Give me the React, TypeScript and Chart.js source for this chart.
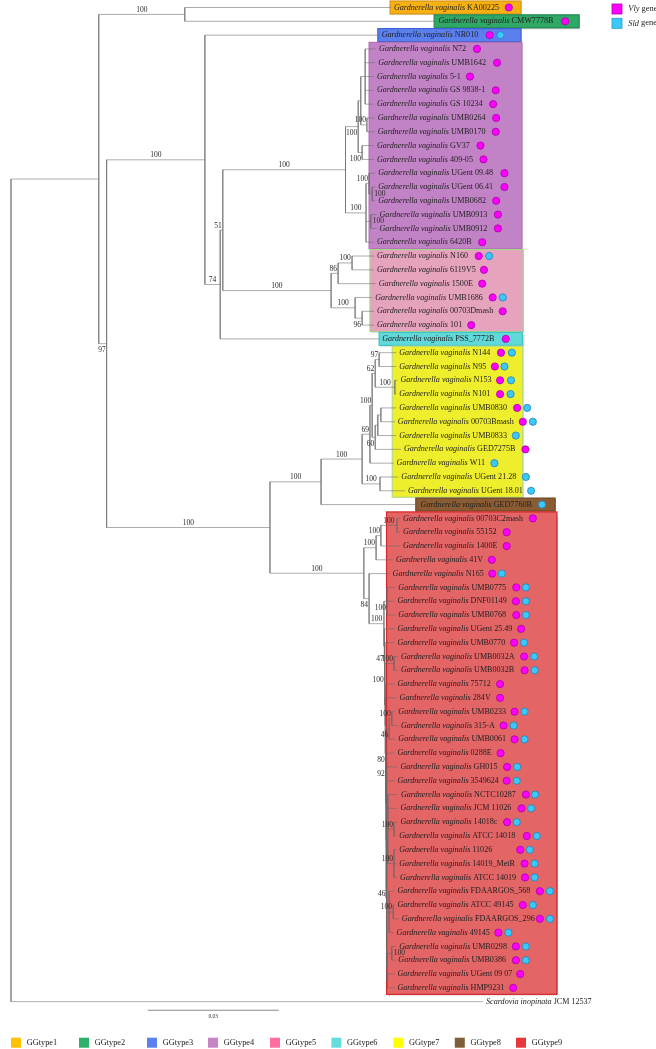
import React, { useEffect, useRef } from 'react';
import { Chart, registerables } from 'chart.js';

Chart.register(...registerables);

type Kid = string | number;

// ---------- DATA ----------
const LEAF_STRAINS: string[] = [
  'KA00225', 'CMW7778B', 'NR010', 'N72', 'UMB1642', '5-1', 'GS 9838-1', 'GS 10234', 'UMB0264', 'UMB0170',
  'GV37', '409-05', 'UGent 09.48', 'UGent 06.41', 'UMB0682', 'UMB0913', 'UMB0912', '6420B', 'N160', '6119V5',
  '1500E', 'UMB1686', '00703Dmash', '101', 'PSS_7772B', 'N144', 'N95', 'N153', 'N101', 'UMB0830',
  '00703Bmash', 'UMB0833', 'GED7275B', 'W11', 'UGent 21.28', 'UGent 18.01', 'GED7760B', '00703C2mash', '55152', '1400E',
  '41V', 'N165', 'UMB0775', 'DNF01149', 'UMB0768', 'UGent 25.49', 'UMB0770', 'UMB0032A', 'UMB0032B', '75712',
  '284V', 'UMB0233', '315-A', 'UMB0061', '0288E', 'GH015', '3549624', 'NCTC10287', 'JCM 11026', '14018c',
  'ATCC 14018', '11026', '14019_MetR', 'ATCC 14019', 'FDAARGOS_568', 'ATCC 49145', 'FDAARGOS_296', '49145', 'UMB0298', 'UMB0386',
  'UGent 09 07', 'HMP9231', 'JCM 12537',
];

const LEAF_SPECIES: string[] = LEAF_STRAINS.map((_, i) =>
  i === LEAF_STRAINS.length - 1 ? 'Scardovia inopinata' : 'Gardnerella vaginalis');

// tip depth (substitutions/site) of each leaf
const LEAF_TIPS: number[] = [
  0.0870, 0.0972, 0.0842, 0.0836, 0.0834, 0.0831, 0.0831, 0.0831, 0.0833, 0.0833,
  0.0831, 0.0831, 0.0834, 0.0834, 0.0834, 0.0837, 0.0837, 0.0831, 0.0831, 0.0831,
  0.0835, 0.0827, 0.0831, 0.0831, 0.0843, 0.0882, 0.0882, 0.0885, 0.0882, 0.0882,
  0.0879, 0.0882, 0.0893, 0.0876, 0.0887, 0.0902, 0.0931, 0.0891, 0.0891, 0.0891,
  0.0875, 0.0867, 0.0880, 0.0878, 0.0880, 0.0878, 0.0878, 0.0886, 0.0886, 0.0878,
  0.0883, 0.0880, 0.0886, 0.0880, 0.0878, 0.0885, 0.0878, 0.0886, 0.0885, 0.0885,
  0.0882, 0.0882, 0.0882, 0.0884, 0.0878, 0.0878, 0.0888, 0.0876, 0.0882, 0.0880,
  0.0878, 0.0878, 0.1081,
];

// marker positions of the Vly gene (magenta) and Sld gene (cyan) dots
const VLY_X: (number | null)[] = [
  0.1140, 0.1269, 0.1096, 0.1067, 0.1113, 0.1051, 0.1110, 0.1104, 0.1111, 0.1110,
  0.1075, 0.1082, 0.1130, 0.1130, 0.1111, 0.1115, 0.1115, 0.1079, 0.1071, 0.1083,
  0.1079, 0.1103, 0.1126, 0.1054, 0.1133, 0.1122, 0.1108, 0.1120, 0.1120, 0.1159,
  0.1172, null, 0.1178, null, null, null, null, 0.1195, 0.1135, 0.1135,
  0.1101, 0.1102, 0.1157, 0.1156, 0.1157, 0.1168, 0.1152, 0.1175, 0.1176, 0.1120,
  0.1120, 0.1153, 0.1128, 0.1153, 0.1121, 0.1136, 0.1135, 0.1179, 0.1169, 0.1136,
  0.1181, 0.1166, 0.1176, 0.1177, 0.1211, 0.1172, 0.1211, 0.1116, 0.1156, 0.1156,
  0.1166, 0.1150, null,
];

const SLD_X: (number | null)[] = [
  null, null, 0.1121, null, null, null, null, null, null, null,
  null, null, null, null, null, null, null, null, 0.1095, null,
  null, 0.1126, null, null, null, 0.1147, 0.1130, 0.1145, 0.1144, 0.1182,
  0.1195, 0.1156, null, 0.1107, 0.1179, 0.1191, 0.1216, null, null, null,
  null, 0.1124, 0.1179, 0.1179, 0.1179, null, 0.1175, 0.1198, 0.1199, null,
  null, 0.1176, 0.1151, 0.1176, null, 0.1159, 0.1158, 0.1200, 0.1191, 0.1158,
  0.1204, 0.1188, 0.1199, 0.1199, 0.1234, 0.1195, 0.1234, 0.1139, 0.1179, 0.1179,
  null, null, null,
];

// internal nodes: [name, depth, children (leaf index or node name)]
const INTERNAL_NODES: [string, number, Kid[]][] = [
  ['root', 0, ['I', 72]],
  ['I', 0.0201, ['T1', 'B']],
  ['T1', 0.0398, [0, 1]],
  ['B', 0.0219, ['C', 'F']],
  ['C', 0.0444, [2, 'D']],
  ['D', 0.0479, ['E', 24]],
  ['E', 0.0485, ['G4', 'G5']],
  ['G4', 0.0766, ['A4', 'B4']],
  ['A4', 0.0795, ['X', 'S2']],
  ['X', 0.0801, ['X1', 'SX']],
  ['X1', 0.0811, [3, 4, 5, 6, 7]],
  ['SX', 0.0815, [8, 9]],
  ['S2', 0.0804, [10, 11]],
  ['B4', 0.0813, ['P0', 'P2', 17]],
  ['P0', 0.0820, [12, 'P1']],
  ['P1', 0.0827, [13, 14]],
  ['P2', 0.0824, [15, 16]],
  ['G5', 0.0733, ['A5', 'B5']],
  ['A5', 0.0749, ['Q1', 20]],
  ['Q1', 0.0781, [18, 19]],
  ['B5', 0.0788, [21, 'Q2']],
  ['Q2', 0.0804, [22, 23]],
  ['F', 0.0593, ['G', 'G9']],
  ['G', 0.0710, ['G7', 36]],
  ['G7', 0.0804, ['Y1', 'Y2']],
  ['Y1', 0.0822, ['Y1a', 33]],
  ['Y1a', 0.0827, ['Y1aa', 'Y1ab']],
  ['Y1aa', 0.0834, ['YP1', 'YP2']],
  ['YP1', 0.0843, [25, 26]],
  ['YP2', 0.0879, [27, 28]],
  ['Y1ab', 0.0834, ['Y1abc', 32]],
  ['Y1abc', 0.0840, ['YPB', 31]],
  ['YPB', 0.0847, [29, 30]],
  ['Y2', 0.0845, [34, 35]],
  ['G9', 0.0808, ['H1', 'H2']],
  ['H1', 0.0836, ['H1a', 40]],
  ['H1a', 0.0847, ['R1', 39]],
  ['R1', 0.0884, [37, 38]],
  ['H2', 0.0820, [41, 'H3']],
  ['H3', 0.0854, ['H3a', 'N2']],
  ['H3a', 0.0861, [42, 43, 44]],
  ['N2', 0.0855, [45, 'N3']],
  ['N3', 0.0856, [46, 'N4']],
  ['N4', 0.0856, ['PA', 'N5']],
  ['PA', 0.0877, [47, 48]],
  ['N5', 0.0857, [49, 'N6']],
  ['N6', 0.0857, [50, 'N7']],
  ['N7', 0.0858, ['TB', 'N8']],
  ['TB', 0.0866, ['PU', 53]],
  ['PU', 0.0872, [51, 52]],
  ['N8', 0.0858, [54, 'N9']],
  ['N9', 0.0859, [55, 'N10']],
  ['N10', 0.0859, [56, 'N11']],
  ['N11', 0.0860, ['CC', 'CD', 'N13']],
  ['CC', 0.0863, [57, 58, 'SC1', 'SC2']],
  ['SC1', 0.0877, [59, 60]],
  ['SC2', 0.0877, [61, 62, 63]],
  ['CD', 0.0866, [64, 'SD', 67]],
  ['SD', 0.0875, [65, 66]],
  ['N13', 0.0861, ['PE', 'N14']],
  ['PE', 0.0872, [68, 69]],
  ['N14', 0.0862, [70, 71]],
];

// bootstrap support: [node, value, placement a=above b=below r=right]
const BOOTSTRAP: [string, string, string][] = [
  ['T1', '100', 'a'], ['B', '97', 'b'], ['C', '100', 'a'], ['D', '74', 'a'], ['E', '51', 'a'],
  ['G4', '100', 'a'], ['A4', '100', 'b'], ['SX', '100', 'a'], ['S2', '100', 'b'], ['P0', '100', 'a'],
  ['P1', '100', 'r'], ['B4', '100', 'a'], ['P2', '100', 'r'], ['G5', '100', 'a'], ['A5', '86', 'a'],
  ['Q1', '100', 'a'], ['B5', '100', 'a'], ['Q2', '96', 'b'], ['F', '100', 'a'], ['G', '100', 'a'],
  ['G7', '100', 'a'], ['Y1', '69', 'a'], ['Y1a', '100', 'a'], ['Y1aa', '62', 'a'], ['YP1', '97', 'a'],
  ['YP2', '100', 'a'], ['Y1ab', '60', 'b'], ['Y2', '100', 'a'], ['G9', '100', 'a'], ['H1', '100', 'a'],
  ['H1a', '100', 'a'], ['R1', '100', 'a'], ['H2', '84', 'b'], ['H3', '100', 'a'], ['H3a', '100', 'b'],
  ['N3', '47', 'a'], ['N4', '100', 'a'], ['PA', '100', 'a'], ['PU', '100', 'a'], ['TB', '46', 'b'],
  ['N7', '80', 'b'], ['N8', '92', 'a'], ['SC1', '100', 'a'], ['SC2', '100', 'a'], ['N11', '46', 'a'],
  ['SD', '100', 'a'], ['PE', '100', 'r'],
];

// genotype groups (boxes)
const GROUP_NAMES = ['GGtype1', 'GGtype2', 'GGtype3', 'GGtype4', 'GGtype5', 'GGtype6', 'GGtype7', 'GGtype8', 'GGtype9'];
const GROUP_FIRST = [0, 1, 2, 3, 18, 24, 25, 36, 37];
const GROUP_LAST = [0, 1, 2, 17, 23, 24, 35, 36, 71];
const GROUP_X0 = [0.0868, 0.0969, 0.0840, 0.0820, 0.0822, 0.0843, 0.0873, 0.0927, 0.0860];
const GROUP_X1 = [0.1168, 0.1301, 0.1168, 0.1170, 0.1173, 0.1171, 0.1172, 0.1246, 0.1250];
const GROUP_FILL = ['#F6B012', '#2FA866', '#5B80EE', '#C283C6', '#E6A3BE', '#5FD9D9', '#EEEE2C', '#8A5C33', '#E46565'];
const GROUP_STROKE = ['#D9961A', '#1F8A50', '#3F63D6', '#B070B4', '#A6D68A', '#45C3C3', '#B6DC8A', '#6E4522', '#D8262A'];
const LEGEND_COLORS = ['#FFC000', '#2DB06A', '#5C80F0', '#C585C5', '#FF6E9C', '#66DDDD', '#FFFF00', '#7F5F3A', '#E8383D'];

const SCALE_BAR = { start: 0.0313, length: 0.03, label: '0.03', level: 72.62 };

// ---------- helpers ----------
const SERIF = '"Liberation Serif", "Times New Roman", serif';
const LEAF_FONT = 8.1;

function buildTree() {
  const nodes = new Map<string, { x: number; kids: Kid[] }>();
  INTERNAL_NODES.forEach(([n, x, k]) => nodes.set(n, { x, kids: k }));
  const parent = new Map<string, string>();
  INTERNAL_NODES.forEach(([n, , k]) => k.forEach((c) => { if (typeof c === 'string') parent.set(c, n); }));
  const cache = new Map<string, number>();
  const yOf = (k: Kid): number => {
    if (typeof k === 'number') return k;
    const c = cache.get(k);
    if (c !== undefined) return c;
    const nd = nodes.get(k)!;
    const y = (yOf(nd.kids[0]) + yOf(nd.kids[nd.kids.length - 1])) / 2;
    cache.set(k, y);
    return y;
  };
  const xOf = (k: Kid): number => (typeof k === 'number' ? LEAF_TIPS[k] : nodes.get(k)!.x);
  return { nodes, parent, yOf, xOf };
}

export default function App() {
  const ref = useRef<HTMLCanvasElement>(null);

  useEffect(() => {
    const canvas = ref.current;
    if (!canvas) return;
    const { parent, yOf, xOf } = buildTree();

    const segs: { x: number; y: number | null }[] = [];
    INTERNAL_NODES.forEach(([, x, kids]) => {
      segs.push({ x, y: yOf(kids[0]) }, { x, y: yOf(kids[kids.length - 1]) }, { x: NaN, y: null });
      kids.forEach((k) => {
        const yk = yOf(k);
        segs.push({ x, y: yk }, { x: xOf(k), y: yk }, { x: NaN, y: null });
      });
    });

    const vlyPts = VLY_X.map((v, i) => (v === null ? null : { x: v, y: i })).filter(Boolean) as { x: number; y: number }[];
    const sldPts = SLD_X.map((v, i) => (v === null ? null : { x: v, y: i })).filter(Boolean) as { x: number; y: number }[];

    const decor = {
      id: 'treeDecor',
      beforeDatasetsDraw(chart: any) {
        const ctx = chart.ctx as CanvasRenderingContext2D;
        const xs = chart.scales.x, ys = chart.scales.y;
        GROUP_NAMES.forEach((_, i) => {
          const x0 = xs.getPixelForValue(GROUP_X0[i]);
          const x1 = xs.getPixelForValue(GROUP_X1[i]);
          const y0 = ys.getPixelForValue(GROUP_FIRST[i] - 0.47);
          const y1 = ys.getPixelForValue(GROUP_LAST[i] + 0.47);
          ctx.save();
          ctx.shadowColor = 'rgba(0,0,0,0.3)';
          ctx.shadowOffsetX = 1.2;
          ctx.shadowOffsetY = 1.2;
          ctx.shadowBlur = 1.5;
          ctx.fillStyle = GROUP_FILL[i];
          ctx.fillRect(x0, y0, x1 - x0, y1 - y0);
          ctx.restore();
          ctx.save();
          ctx.strokeStyle = GROUP_STROKE[i];
          ctx.lineWidth = 1.2;
          ctx.strokeRect(x0, y0, x1 - x0, y1 - y0);
          ctx.restore();
        });
      },
      afterDatasetsDraw(chart: any) {
        const ctx = chart.ctx as CanvasRenderingContext2D;
        const xs = chart.scales.x, ys = chart.scales.y;
        const px = (v: number) => xs.getPixelForValue(v);
        const py = (v: number) => ys.getPixelForValue(v);
        ctx.save();
        ctx.textBaseline = 'middle';
        ctx.fillStyle = '#1e1e1e';
        // leaf labels
        LEAF_STRAINS.forEach((s, i) => {
          const x = px(LEAF_TIPS[i]) + 3;
          const y = py(i);
          ctx.textAlign = 'left';
          ctx.font = `italic ${LEAF_FONT}px ${SERIF}`;
          ctx.fillText(LEAF_SPECIES[i], x, y);
          const w = ctx.measureText(LEAF_SPECIES[i] + ' ').width;
          ctx.font = `${LEAF_FONT}px ${SERIF}`;
          ctx.fillText(s, x + w, y);
        });
        // bootstrap values
        ctx.font = `7.5px ${SERIF}`;
        ctx.fillStyle = '#2a2a2a';
        BOOTSTRAP.forEach(([n, t, side]) => {
          const nx = px(xOf(n));
          const ny = py(yOf(n));
          const p = parent.get(n);
          const ppx = p ? px(xOf(p)) : nx;
          const w = ctx.measureText(t).width;
          if (side === 'r') {
            ctx.textAlign = 'left';
            ctx.fillText(t, nx + 2, ny);
            return;
          }
          const ty = side === 'a' ? ny - 4.5 : ny + 6.5;
          if (nx - ppx >= w + 2) {
            ctx.textAlign = 'center';
            ctx.fillText(t, (nx + ppx) / 2, ty);
          } else {
            ctx.textAlign = 'right';
            ctx.fillText(t, nx - 1, ty);
          }
        });
        // scale bar
        const sb0 = px(SCALE_BAR.start), sb1 = px(SCALE_BAR.start + SCALE_BAR.length);
        const sby = py(SCALE_BAR.level);
        ctx.strokeStyle = '#8a8a8a';
        ctx.lineWidth = 1;
        ctx.beginPath();
        ctx.moveTo(sb0, sby);
        ctx.lineTo(sb1, sby);
        ctx.stroke();
        ctx.font = `5.5px ${SERIF}`;
        ctx.textAlign = 'center';
        ctx.fillStyle = '#333';
        ctx.fillText(SCALE_BAR.label, (sb0 + sb1) / 2, sby + 6.5);
        // gene legend (top right)
        const geneItems: [string, string, string, number][] = [
          ['Vly', '#FF00FF', '#B000B0', 9],
          ['Sld', '#3CC8F8', '#2A98D0', 23.3],
        ];
        geneItems.forEach(([name, fill, stroke, cy]) => {
          ctx.fillStyle = fill;
          ctx.fillRect(612, cy - 5, 10, 10);
          ctx.strokeStyle = stroke;
          ctx.lineWidth = 0.8;
          ctx.strokeRect(612, cy - 5, 10, 10);
          ctx.fillStyle = '#1e1e1e';
          ctx.textAlign = 'left';
          ctx.font = `italic 8.4px ${SERIF}`;
          ctx.fillText(name, 628.3, cy);
          const w = ctx.measureText(name + ' ').width;
          ctx.font = `8.4px ${SERIF}`;
          ctx.fillText('gene', 628.3 + w, cy);
        });
        // group legend (bottom)
        const legendX = [11, 79, 147, 208, 270, 331.4, 393.3, 454.8, 516];
        const ly = 1042.7;
        GROUP_NAMES.forEach((g, i) => {
          ctx.fillStyle = LEGEND_COLORS[i];
          ctx.fillRect(legendX[i], ly - 5, 10, 10);
          ctx.fillStyle = '#222';
          ctx.textAlign = 'left';
          ctx.font = `8.3px ${SERIF}`;
          ctx.fillText(g, legendX[i] + 15.7, ly);
        });
        ctx.restore();
      },
    };

    const chart = new Chart(canvas, {
      type: 'scatter',
      data: {
        datasets: [
          {
            label: 'tree',
            data: segs as any,
            showLine: true,
            borderColor: 'rgba(105,105,105,0.55)',
            borderWidth: 1,
            pointRadius: 0,
            spanGaps: false,
            order: 3,
          },
          {
            label: 'Vly gene',
            data: vlyPts,
            pointRadius: 3.6,
            pointBackgroundColor: '#FF00FF',
            pointBorderColor: '#A400A4',
            pointBorderWidth: 0.8,
            order: 2,
          },
          {
            label: 'Sld gene',
            data: sldPts,
            pointRadius: 3.6,
            pointBackgroundColor: '#3CC8F8',
            pointBorderColor: '#2080C0',
            pointBorderWidth: 0.8,
            order: 1,
          },
        ],
      },
      options: {
        responsive: false,
        animation: false,
        events: [],
        layout: { padding: 0, autoPadding: false } as any,
        scales: {
          x: { type: 'linear', display: false, min: -0.002519, max: 0.147699 },
          y: { type: 'linear', display: false, reverse: true, min: -0.5432, max: 75.427 },
        },
        plugins: { legend: { display: false }, tooltip: { enabled: false } },
      },
      plugins: [decor],
    });

    return () => chart.destroy();
  }, []);

  return (
    <div style={{ position: 'absolute', left: 0, top: 0, width: 656, height: 1049, background: '#fff' }}>
      <canvas ref={ref} width={656} height={1049} style={{ display: 'block', width: 656, height: 1049 }} />
    </div>
  );
}
